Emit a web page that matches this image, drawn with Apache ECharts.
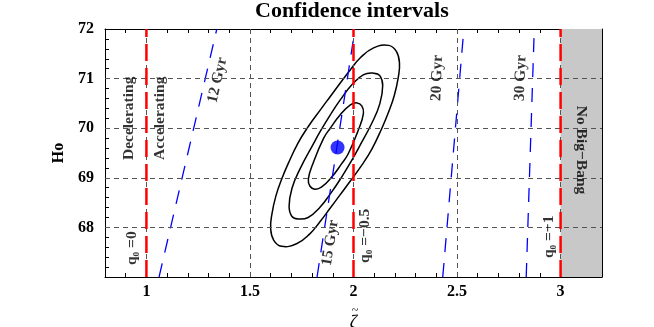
<!DOCTYPE html>
<html>
<head>
<meta charset="utf-8">
<script src="https://cdn.jsdelivr.net/npm/echarts@6/dist/echarts.min.js"></script>
<style>
  html, body { margin: 0; padding: 0; background: #fff; }
  #chart { width: 654px; height: 327px; }
</style>
</head>
<body>
<div id="chart"></div>
<script>
// tick labels
const xLabels = [1, 1.5, 2, 2.5, 3]
const yLabels = [68, 69, 70, 71, 72]

// best fit point (zeta, Ho)
const bestFit = [[1.923, 69.61]]

// confidence contours
const contourInner = [
  [1.782, 68.98], [1.807, 69.32], [1.856, 69.80], [1.888, 70.00], [1.936, 70.27],
  [1.985, 70.47], [2.017, 70.51], [2.040, 70.45], [2.048, 70.30], [2.023, 69.96],
  [1.974, 69.48], [1.942, 69.28], [1.894, 69.01], [1.845, 68.81], [1.813, 68.77],
  [1.790, 68.83]
]
const contourMiddle = [
  [1.689, 68.42], [1.703, 68.79], [1.743, 69.19], [1.803, 69.66], [1.840, 69.94],
  [1.888, 70.27], [1.936, 70.57], [1.993, 70.88], [2.049, 71.08], [2.097, 71.11],
  [2.127, 71.06], [2.141, 70.86], [2.127, 70.49], [2.087, 70.09], [2.027, 69.62],
  [1.990, 69.34], [1.942, 69.01], [1.894, 68.71], [1.837, 68.40], [1.781, 68.20],
  [1.733, 68.17], [1.703, 68.22]
]
const contourOuter = [
  [1.600, 67.97], [1.606, 68.27], [1.625, 68.63], [1.652, 68.96], [1.686, 69.30],
  [1.732, 69.70], [1.781, 70.03], [1.840, 70.37], [1.888, 70.64], [1.936, 70.91],
  [1.985, 71.18], [2.033, 71.42], [2.097, 71.62], [2.170, 71.67], [2.207, 71.55],
  [2.222, 71.32], [2.216, 71.02], [2.197, 70.66], [2.170, 70.33], [2.136, 69.99],
  [2.090, 69.59], [2.041, 69.26], [1.982, 68.92], [1.934, 68.65], [1.886, 68.38],
  [1.837, 68.11], [1.789, 67.87], [1.725, 67.67], [1.652, 67.62], [1.615, 67.74]
]
const contours = [contourInner, contourMiddle, contourOuter]

// age lines (blue)
const age12 = [[1.061, 67], [1.340, 72]]
const age15 = [[1.824, 67], [2.007, 72]]
const age20 = [[2.431, 67], [2.533, 72]]
const age30 = [[2.834, 67], [2.873, 72]]

// q0 lines (red)
const q0Values = [1, 2, 3]

// annotations: x, y, text, rotation
const notes = [
  [0.916, 70.20, 'Decelerating', 90],
  [1.066, 70.20, 'Accelerating', 90],
  [0.929, 67.58, 'q\u2080 =0', 90],
  [1.343, 70.97, '12 Gyr', 77],
  [1.888, 67.69, '15 Gyr', 81],
  [2.057, 67.83, 'q\u2080 =\u22120.5', 90],
  [2.404, 71.01, '20 Gyr', 88],
  [2.807, 71.01, '30 Gyr', 88],
  [2.944, 67.81, 'q\u2080 =\u22121', 90],
  [3.097, 69.56, 'No Big\u2212Bang', -90]
]

const serif = '"Liberation Serif", "DejaVu Serif", serif'
const near = (list, v) => list.find(t => Math.abs(t - v) < 1e-6)

const chart = echarts.init(document.getElementById('chart'))

function ageSeries(data) {
  return {
    type: 'line', data: data, symbol: 'none', z: 4, silent: true,
    lineStyle: { color: '#0000ff', width: 1.3, type: [14, 11] }
  }
}

const tickStyle = { inside: true, length: 4, lineStyle: { color: '#000' } }

chart.setOption({
  animation: false,
  title: {
    text: 'Confidence intervals',
    left: 255,
    top: 0,
    padding: 0,
    textStyle: { fontFamily: serif, fontWeight: 'bold', fontSize: 22, color: '#000' }
  },
  grid: { left: 105, right: 52, top: 29, bottom: 50, outerBoundsMode: 'none' },
  xAxis: [
    {
      type: 'value', min: 0.8, max: 3.2, interval: 0.1,
      axisLine: { lineStyle: { color: '#000', width: 1 } },
      axisTick: tickStyle,
      splitLine: { show: false },
      axisLabel: {
        margin: 7,
        fontFamily: serif, fontWeight: 'bold', fontSize: 16, color: '#000',
        formatter: v => { const t = near(xLabels, v); return t === undefined ? '' : String(t) }
      },
      name: '{t|~}\n{z|\u03B6}',
      nameLocation: 'middle',
      nameGap: 22,
      nameTextStyle: {
        color: '#000',
        rich: {
          t: { fontFamily: serif, fontSize: 12, lineHeight: 7, color: '#000', padding: [0, 0, 0, 3] },
          z: { fontFamily: serif, fontStyle: 'italic', fontSize: 18, lineHeight: 17, color: '#000' }
        }
      }
    },
    {
      type: 'value', min: 0.8, max: 3.2, interval: 0.1, position: 'top',
      axisLine: { lineStyle: { color: '#000', width: 1 } },
      axisTick: tickStyle,
      axisLabel: { show: false },
      splitLine: { show: false }
    }
  ],
  yAxis: [
    {
      type: 'value', min: 67, max: 72, interval: 0.2,
      axisLine: { show: true, lineStyle: { color: '#000', width: 1 } },
      axisTick: { show: true, inside: true, length: 4, lineStyle: { color: '#000' } },
      splitLine: { show: false },
      axisLabel: {
        margin: 11,
        fontFamily: serif, fontWeight: 'bold', fontSize: 16, color: '#000',
        formatter: v => { const t = near(yLabels, v); return t === undefined ? '' : String(t) }
      },
      name: 'Ho',
      nameLocation: 'middle',
      nameGap: 37,
      nameRotate: 90,
      nameTextStyle: { fontFamily: serif, fontWeight: 'bold', fontSize: 16, color: '#000' }
    },
    {
      type: 'value', min: 67, max: 72, interval: 0.2, position: 'right',
      axisLine: { show: true, lineStyle: { color: '#000', width: 1 } },
      axisTick: { show: true, inside: true, length: 4, lineStyle: { color: '#000' } },
      axisLabel: { show: false },
      splitLine: { show: false }
    }
  ],
  series: [
    // grid lines and the no big bang region
    {
      type: 'line', data: [], z: 1, silent: true,
      markLine: {
        silent: true, symbol: 'none', label: { show: false },
        lineStyle: { color: '#555', width: 1, type: [5, 4] },
        data: xLabels.map(v => ({ xAxis: v })).concat(yLabels.slice(0, 4).map(v => ({ yAxis: v })))
      },
      markArea: {
        silent: true,
        itemStyle: { color: '#c8c8c8', opacity: 1 },
        data: [[{ xAxis: 3 }, { xAxis: 3.2 }]]
      }
    },
    // closed contours
    {
      type: 'custom', z: 3, silent: true,
      data: contours.map((c, i) => [c[0][0], c[0][1], i]),
      renderItem: (params, api) => {
        const pts = contours[params.dataIndex].map(p => api.coord(p))
        return {
          type: 'polygon',
          shape: { points: pts, smooth: 0.45 },
          style: { fill: 'none', stroke: '#000', lineWidth: 1.5 }
        }
      }
    },
    ageSeries(age12),
    ageSeries(age15),
    ageSeries(age20),
    ageSeries(age30),
    // red q0 lines
    ...q0Values.map(q => ({
      type: 'line', data: [[q, 67], [q, 72]], symbol: 'none', z: 5, silent: true,
      lineStyle: { color: '#ff0000', width: 2.5, type: [17, 7] }
    })),
    {
      type: 'scatter', data: bestFit, symbolSize: 14, z: 6,
      itemStyle: { color: '#0000ff' }
    },
    {
      type: 'scatter', z: 7, silent: true, symbolSize: 1,
      itemStyle: { color: 'rgba(0,0,0,0)' },
      label: {
        show: true, position: 'inside',
        fontFamily: serif, fontWeight: 'bold', fontSize: 15.5, color: '#000',
        align: 'center', verticalAlign: 'middle',
        formatter: p => p.data.text
      },
      labelLayout: { hideOverlap: false },
      data: notes.map(n => ({
        value: [n[0], n[1]],
        text: n[2],
        label: { rotate: n[3] }
      }))
    }
  ]
})
</script>
</body>
</html>
